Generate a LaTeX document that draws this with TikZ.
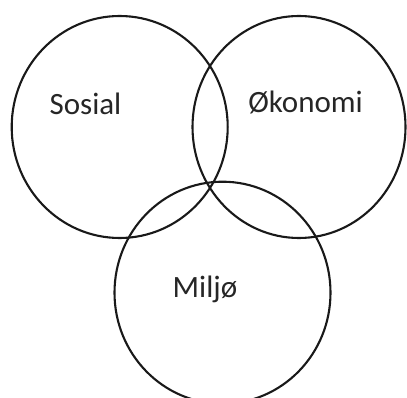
\documentclass[tikz,border=0pt]{standalone}
\usepackage{fontspec}
\setmainfont{Carlito}
\usetikzlibrary{shapes.geometric}
\begin{document}
\begin{tikzpicture}[x=1pt,y=-1pt,
  ring/.style={ellipse,draw=black!90,line width=2.1pt,inner sep=0pt,minimum width=216pt,minimum height=222pt},
  lbl/.style={anchor=base,font=\fontsize{31}{36}\selectfont,text=black!85,inner sep=0pt}]
\useasboundingbox (0,0) rectangle (407,398);
\node[ring] (sosial) at (119.7,127) {};
\node[ring,minimum width=213pt] (okonomi) at (299,127) {};
\node[ring] (miljo) at (222.5,292.7) {};
\node[lbl] (tsosial) at (85.5,115) {Sosial};
\node[lbl] (tokonomi) at (305.5,113) {Økonomi};
\node[lbl] (tmiljo) at (205,298) {Miljø};
\end{tikzpicture}
\end{document}
